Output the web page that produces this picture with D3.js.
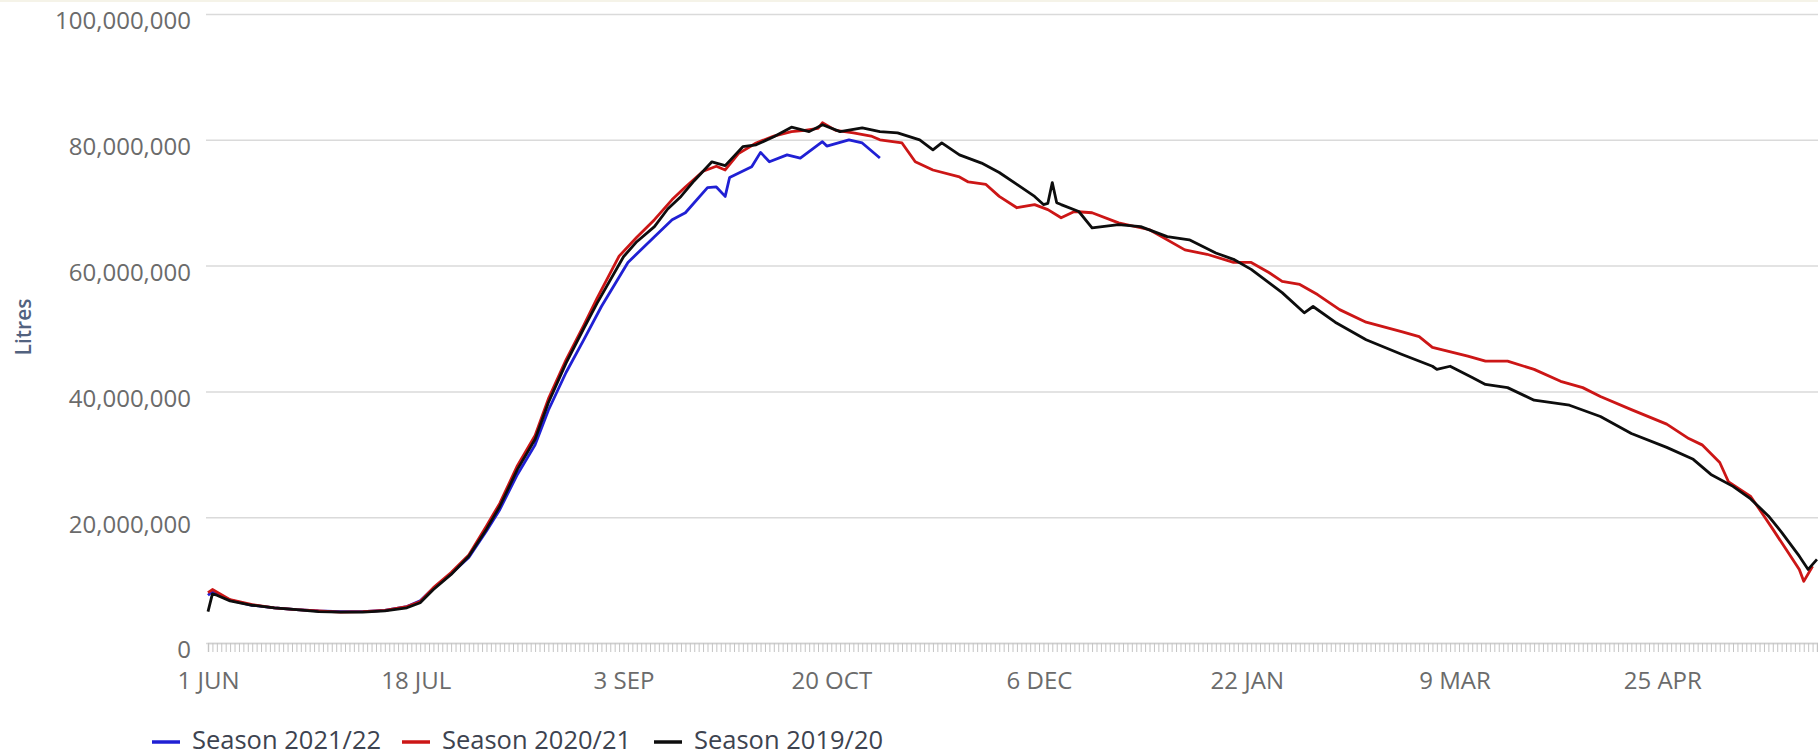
<!DOCTYPE html>
<html>
<head>
<meta charset="utf-8">
<script src="https://cdn.jsdelivr.net/npm/d3@7"></script>
<style>
  body { margin: 0; background: #fff; }
  svg { display: block; }
  svg text { font-family: "Open Sans", sans-serif; }
  .y-axis text { fill: #6b6b6b; font-size: 24px; }
  .x-labels text { fill: #6b6b6b; font-size: 24px; }
  .legend text { fill: #3d4350; font-size: 25.5px; }
</style>
</head>
<body>
<svg width="1818" height="756"></svg>
<script>
const svg = d3.select('svg');
const width = +svg.attr('width');
const height = +svg.attr('height');

// day index counted from 1 June (0) to 31 May (364)
const tickDays = [0, 47, 94, 141, 188, 235, 282, 329];
const tickLabels = ["1 JUN", "18 JUL", "3 SEP", "20 OCT", "6 DEC", "22 JAN", "9 MAR", "25 APR"];
const yTicks = [0, 20e6, 40e6, 60e6, 80e6, 100e6];

const seriesNames = ["Season 2021/22", "Season 2020/21", "Season 2019/20"];
const seriesColors = ["#2020d4", "#cc1616", "#0d0d0d"];

// values in millions of litres
const days2122 = [0, 1, 5, 10, 15, 20, 25, 30, 35, 40, 45, 48, 51, 55, 59, 63, 66, 70, 74, 77, 81, 85, 89, 95,
  101, 105, 108, 113, 115, 117, 118, 123, 125, 127, 131, 134, 139, 140, 145, 148, 152];
const vals2122 = [7.6, 8.2, 6.8, 6.0, 5.6, 5.3, 5.1, 5.0, 5.0, 5.2, 5.8, 6.7, 8.7, 11.0, 13.6, 17.8, 21.2, 26.8, 31.5, 37.0, 43.0, 48.2, 53.5, 60.5,
  64.6, 67.3, 68.4, 72.4, 72.5, 71.0, 74.0, 75.7, 78.0, 76.5, 77.6, 77.1, 79.7, 79.0, 80.0, 79.5, 77.1];

const days2021 = [0, 1, 5, 10, 15, 20, 25, 30, 35, 40, 45, 48, 51, 55, 59, 63, 66, 70, 74, 77, 81, 85, 88, 93,
  97, 101, 105, 108, 112, 115, 117, 120, 124, 128, 132, 135, 138, 139, 142, 146, 150, 152, 157, 160, 164, 170,
  172, 176, 179, 183, 187, 190, 193, 196, 200, 206, 213, 221, 226, 232, 236, 240, 243, 247, 251, 256, 262, 270,
  274, 277, 285, 289, 294, 300, 306, 311, 315, 322, 330, 335, 338, 342, 344, 349, 352, 354, 357, 360, 361, 363];
const vals2021 = [8.0, 8.5, 6.9, 6.1, 5.6, 5.3, 5.1, 4.9, 5.0, 5.2, 5.8, 6.6, 8.8, 11.2, 14.0, 18.6, 22.2, 28.2, 33.0, 38.8, 45.0, 50.5, 54.8, 61.5,
  64.5, 67.3, 70.5, 72.5, 75.0, 75.8, 75.2, 77.8, 79.5, 80.6, 81.3, 81.5, 81.8, 82.7, 81.5, 81.1, 80.6, 80.0, 79.5, 76.5, 75.2, 74.1,
  73.3, 72.9, 71.0, 69.2, 69.7, 68.9, 67.6, 68.6, 68.4, 66.8, 65.7, 62.5, 61.8, 60.5, 60.5, 58.9, 57.5, 57.0, 55.4, 53.0, 51.0, 49.5,
  48.7, 47.0, 45.6, 44.8, 44.8, 43.5, 41.6, 40.6, 39.2, 37.1, 34.8, 32.5, 31.5, 28.7, 25.6, 23.3, 20.2, 18.1, 14.9, 11.7, 9.8, 12.2];

const days1920 = [0, 1, 2, 5, 10, 15, 20, 25, 30, 35, 40, 45, 48, 51, 55, 59, 63, 66, 70, 74, 77, 81, 85, 88, 94,
  97, 101, 104, 107, 110, 114, 117, 121, 124, 128, 132, 136, 139, 143, 148, 152, 156, 161, 164, 166, 170, 175,
  179, 183, 187, 189, 190, 191, 192, 193, 197, 200, 206, 211, 217, 222, 228, 232, 236, 243, 248, 250, 255, 262,
  270, 277, 278, 281, 286, 289, 294, 300, 308, 315, 322, 330, 336, 340, 345, 349, 353, 356, 360, 362, 364];
const vals1920 = [5.0, 7.8, 7.6, 6.7, 6.0, 5.6, 5.3, 5.0, 4.9, 4.9, 5.1, 5.6, 6.4, 8.5, 10.9, 13.8, 18.1, 21.7, 27.6, 32.4, 38.2, 44.5, 50.0, 54.0, 61.4,
  63.8, 66.2, 69.0, 71.0, 73.5, 76.5, 75.9, 78.9, 79.2, 80.5, 82.0, 81.3, 82.4, 81.3, 81.9, 81.3, 81.1, 80.0, 78.4, 79.5, 77.6, 76.3,
  74.8, 72.9, 71.0, 69.7, 69.9, 73.2, 70.0, 69.7, 68.6, 66.0, 66.5, 66.2, 64.6, 64.1, 62.0, 61.0, 59.4, 55.7, 52.5, 53.5, 51.0, 48.2,
  45.9, 44.0, 43.5, 44.0, 42.2, 41.1, 40.6, 38.6, 37.8, 36.0, 33.3, 31.1, 29.2, 26.8, 24.9, 22.9, 20.2, 17.6, 13.8, 11.7, 13.3];

const seriesDays = [days2122, days2021, days1920];
const seriesVals = [vals2122, vals2021, vals1920];

const plotLeft = 206;
const x0 = 208;
const x1 = 1817;
const yTop = 14;
const yBottom = 643;

const xScale = d3.scaleLinear().domain([0, 364]).range([x0, x1]);
const yScale = d3.scaleLinear().domain([0, 100e6]).range([yBottom, yTop]);

// faint top border
svg.append('rect')
    .attr('x', 0).attr('y', 0)
    .attr('width', width).attr('height', 2)
    .attr('fill', '#f5f3e8');

// y axis with gridlines
const yAxisG = svg.append('g')
    .attr('class', 'y-axis')
    .attr('transform', `translate(${plotLeft},0)`)
    .call(d3.axisLeft(yScale)
        .tickValues(yTicks)
        .tickSize(-(width - plotLeft))
        .tickPadding(15)
        .tickFormat(d3.format(',')));
yAxisG.select('.domain').remove();
yAxisG.selectAll('.tick line')
    .attr('stroke', '#dadada')
    .attr('stroke-width', 1.5);
yAxisG.selectAll('.tick text')
    .attr('dy', '0.62em');

// y axis title
svg.append('text')
    .attr('transform', `translate(31,327) rotate(-90)`)
    .attr('text-anchor', 'middle')
    .attr('fill', '#52627f')
    .attr('font-size', 21)
    .attr('font-weight', 600)
    .text('Litres');

// daily tick marks
const xTickG = svg.append('g')
    .attr('transform', `translate(0,${yBottom})`)
    .call(d3.axisBottom(xScale)
        .tickValues(d3.range(0, 365))
        .tickSize(9)
        .tickFormat(''));
xTickG.select('.domain')
    .attr('stroke', '#d0d0d0')
    .attr('stroke-width', 1.5);
xTickG.selectAll('.tick line')
    .attr('stroke', '#c4c4c4');

// x labels
const xLabelG = svg.append('g')
    .attr('class', 'x-labels')
    .attr('transform', `translate(0,${yBottom})`)
    .call(d3.axisBottom(xScale)
        .tickValues(tickDays)
        .tickSize(0)
        .tickPadding(29)
        .tickFormat((d, i) => tickLabels[i]));
xLabelG.select('.domain').remove();

// series lines
const line = d3.line()
    .x(d => xScale(d[0]))
    .y(d => yScale(d[1] * 1e6));

seriesNames.forEach((name, i) => {
    const pts = seriesDays[i].map((d, j) => [d, seriesVals[i][j]]);
    svg.append('path')
        .datum(pts)
        .attr('fill', 'none')
        .attr('stroke', seriesColors[i])
        .attr('stroke-width', 2.8)
        .attr('stroke-linejoin', 'round')
        .attr('d', line);
});

// legend
const legendX = [152, 402, 654];
const legend = svg.append('g').attr('class', 'legend');
const items = legend.selectAll('g').data(seriesNames).enter().append('g')
    .attr('transform', (d, i) => `translate(${legendX[i]},742)`);
items.append('line')
    .attr('x1', 0).attr('x2', 28)
    .attr('y1', 0).attr('y2', 0)
    .attr('stroke', (d, i) => seriesColors[i])
    .attr('stroke-width', 3.5);
items.append('text')
    .attr('x', 40)
    .attr('y', 7)
    .text(d => d);
</script>
</body>
</html>
